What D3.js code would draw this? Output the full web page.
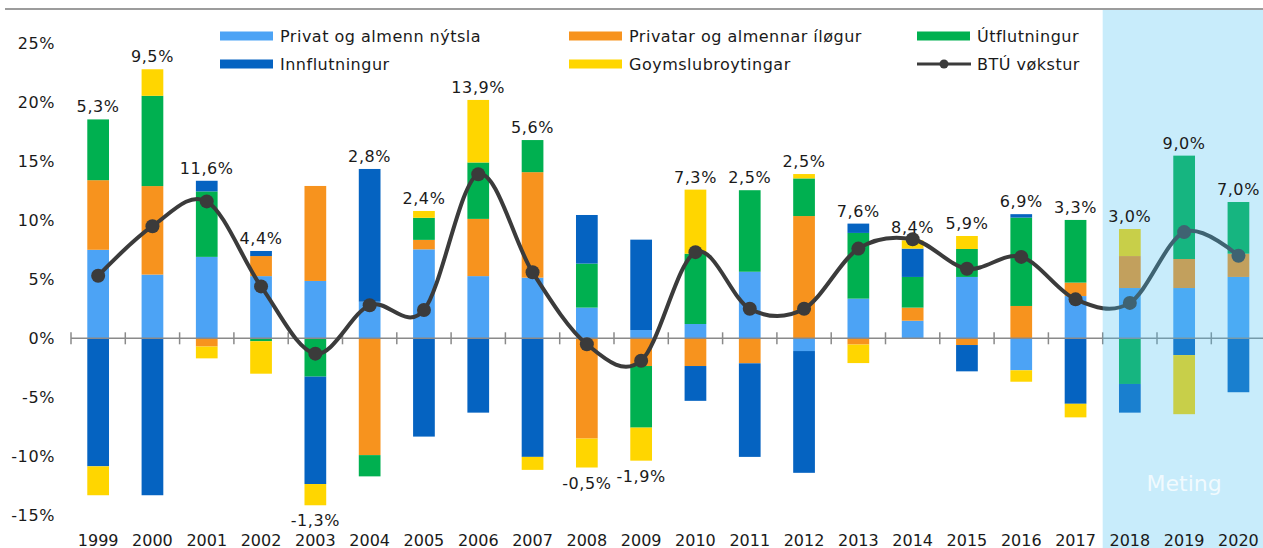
<!DOCTYPE html>
<html>
<head>
<meta charset="utf-8">
<script src="https://cdn.jsdelivr.net/npm/d3@7"></script>
<style>
  body { margin: 0; background: #fff; }
  svg text { font-family: "DejaVu Sans", Verdana, sans-serif; fill: #1a1a1a; }
</style>
</head>
<body>
<div class="main"></div>
<script>
// values, % of BTÚ
let years = ["1999","2000","2001","2002","2003","2004","2005","2006","2007","2008","2009","2010","2011","2012","2013","2014","2015","2016","2017","2018","2019","2020"];
let forecastYears = ["2018","2019","2020"];

let privat = [7.5, 5.4, 6.9, 5.27, 4.86, 3.1, 7.54, 5.27, 5.14, 2.6, 0.7, 1.21, 5.64, -1.08, 3.36, 1.49, 5.2, -2.71, 3.58, 4.26, 4.26, 5.2];
let ilogur = [5.9, 7.5, -0.7, 1.7, 8.05, -9.9, 0.8, 4.85, 8.94, -8.5, -2.35, -2.35, -2.12, 10.36, -0.53, 1.11, -0.57, 2.74, 1.14, 2.71, 2.46, 1.97];
let utflutningur = [5.15, 7.65, 5.55, -0.25, -3.25, -1.8, 1.87, 4.78, 2.72, 3.73, -5.22, 5.96, 6.91, 3.19, 5.57, 2.6, 2.37, 7.49, 5.31, -3.87, 8.76, 4.38];
let innflutningur = [-10.85, -13.3, 0.9, 0.43, -9.1, 11.25, -8.33, -6.3, -10.05, 4.12, 7.66, -2.95, -7.93, -10.32, 0.79, 2.4, -2.23, 0.29, -5.55, -2.43, -1.42, -4.57];
let goymsla = [-2.45, 2.25, -1.0, -2.75, -1.8, 0, 0.58, 5.3, -1.1, -2.45, -2.8, 5.43, 0, 0.37, -1.57, 0.7, 1.1, -0.97, -1.15, 2.29, -5.01, 0];
let vokstur = [5.3, 9.5, 11.6, 4.4, -1.3, 2.8, 2.4, 13.9, 5.6, -0.5, -1.9, 7.3, 2.5, 2.5, 7.6, 8.4, 5.9, 6.9, 3.3, 3.0, 9.0, 7.0];

let yTicks = [-15, -10, -5, 0, 5, 10, 15, 20, 25];

let seriesNames = ["Privat og almenn nýtsla", "Privatar og almennar íløgur", "Útflutningur", "Innflutningur", "Goymslubroytingar"];
let lineName = "BTÚ vøkstur";
let forecastLabel = "Meting";

let keys = ["privat", "ilogur", "utflutningur", "innflutningur", "goymsla"];
let colors = ["#4ca3f5", "#f7931e", "#00b050", "#0563c1", "#ffd600"];

let table = years.map((y, i) => ({
    year: y,
    privat: privat[i],
    ilogur: ilogur[i],
    utflutningur: utflutningur[i],
    innflutningur: innflutningur[i],
    goymsla: goymsla[i],
    vokstur: vokstur[i]
}));

let width = 1263;
let height = 548;

let svg = d3.select(".main")
    .append("svg")
    .attr("width", width)
    .attr("height", height);

let x = d3.scaleBand()
    .domain(years)
    .range([71, 1265.6])
    .paddingInner(0.6)
    .paddingOuter(0.3);

let y = d3.scaleLinear()
    .domain([-15, 25])
    .range([515.3, 43.3]);

let step = x.step();
let gap = (step - x.bandwidth()) / 2;

// title rule (title text sits above the crop)
svg.append("line")
    .attr("x1", 5).attr("x2", width)
    .attr("y1", 9).attr("y2", 9)
    .attr("stroke", "#9c9c9c")
    .attr("stroke-width", 2);

// stacked bars
let stacked = d3.stack()
    .keys(keys)
    .offset(d3.stackOffsetDiverging)(table);

svg.append("g")
    .selectAll("g")
    .data(stacked)
    .enter().append("g")
    .attr("fill", (d, i) => colors[i])
    .selectAll("rect")
    .data(d => d)
    .enter().append("rect")
    .attr("x", d => x(d.data.year))
    .attr("width", x.bandwidth())
    .attr("y", d => y(Math.max(d[0], d[1])))
    .attr("height", d => Math.abs(y(d[0]) - y(d[1])));

// x axis line with ticks between categories
let axisG = svg.append("g");
axisG.append("line")
    .attr("x1", x(years[0]) - gap)
    .attr("x2", width)
    .attr("y1", y(0)).attr("y2", y(0))
    .attr("stroke", "#8a8a8a")
    .attr("stroke-width", 1.5);

axisG.selectAll(".tick-mark")
    .data(years)
    .enter().append("line")
    .attr("class", "tick-mark")
    .attr("x1", d => x(d) - gap)
    .attr("x2", d => x(d) - gap)
    .attr("y1", y(0) - 6)
    .attr("y2", y(0) + 6)
    .attr("stroke", "#8a8a8a")
    .attr("stroke-width", 1.5);

// BTÚ line
let cx = d => x(d.year) + x.bandwidth() / 2;

let line = d3.line()
    .x(cx)
    .y(d => y(d.vokstur))
    .curve(d3.curveCatmullRom.alpha(0));

svg.append("path")
    .datum(table)
    .attr("d", line)
    .attr("fill", "none")
    .attr("stroke", "#3b3b3b")
    .attr("stroke-width", 4);

svg.append("g")
    .selectAll("circle")
    .data(table)
    .enter().append("circle")
    .attr("cx", cx)
    .attr("cy", d => y(d.vokstur))
    .attr("r", 7)
    .attr("fill", "#3b3b3b");

// forecast shading drawn over the marks, so it tints them
let fx0 = x(forecastYears[0]) - gap;
svg.append("rect")
    .attr("x", fx0)
    .attr("y", 10)
    .attr("width", width - fx0)
    .attr("height", height - 10)
    .attr("fill", "rgb(72,192,241)")
    .attr("opacity", 0.3);

svg.append("text")
    .attr("x", x(forecastYears[1]) + x.bandwidth() / 2)
    .attr("y", 491)
    .attr("text-anchor", "middle")
    .style("font-size", "22px")
    .style("fill", "#ffffff")
    .style("fill-opacity", 0.75)
    .text(forecastLabel);

// y labels
svg.append("g")
    .selectAll("text")
    .data(yTicks)
    .enter().append("text")
    .attr("x", 55)
    .attr("y", d => y(d))
    .attr("dy", "0.36em")
    .attr("text-anchor", "end")
    .style("font-size", "16px")
    .style("letter-spacing", "0.6px")
    .text(d => d + "%");

// x labels
svg.append("g")
    .selectAll("text")
    .data(years)
    .enter().append("text")
    .attr("x", d => x(d) + x.bandwidth() / 2)
    .attr("y", 545.5)
    .attr("text-anchor", "middle")
    .style("font-size", "16px")
    .text(d => d);

// growth labels above/below the stacks
let fmt = v => v.toFixed(1).replace(".", ",") + "%";
svg.append("g")
    .selectAll("text")
    .data(table)
    .enter().append("text")
    .attr("x", cx)
    .attr("y", d => {
        let vals = keys.map(k => d[k]);
        if (d.vokstur >= 0) {
            let top = d3.sum(vals.filter(v => v > 0));
            return y(top) - 7;
        } else {
            let bottom = d3.sum(vals.filter(v => v < 0));
            return y(bottom) + 21;
        }
    })
    .attr("text-anchor", "middle")
    .style("font-size", "16px")
    .style("letter-spacing", "0.6px")
    .text(d => fmt(d.vokstur));

// legend, row 1 = first three series, row 2 = import, stock, line
let legendCols = [220, 569, 917];
let legendRows = [36, 64];
let legendLayout = seriesNames.map((name, i) => ({ name: name, color: colors[i], type: "bar" }));
legendLayout.push({ name: lineName, color: "#3b3b3b", type: "line" });

let legend = svg.append("g")
    .selectAll("g")
    .data(legendLayout)
    .enter().append("g")
    .attr("transform", (d, i) => `translate(${legendCols[i % 3]},${legendRows[Math.floor(i / 3)]})`);

legend.filter(d => d.type === "bar")
    .append("rect")
    .attr("x", 0)
    .attr("y", -4.5)
    .attr("width", 53)
    .attr("height", 9)
    .attr("fill", d => d.color);

let lineLegend = legend.filter(d => d.type === "line");
lineLegend.append("line")
    .attr("x1", 0).attr("x2", 54)
    .attr("y1", 0).attr("y2", 0)
    .attr("stroke", d => d.color)
    .attr("stroke-width", 3);
lineLegend.append("circle")
    .attr("cx", 27)
    .attr("cy", 0)
    .attr("r", 4.5)
    .attr("fill", d => d.color);

legend.append("text")
    .attr("x", 60)
    .attr("y", 0)
    .attr("dy", "0.36em")
    .style("font-size", "16px")
    .style("letter-spacing", "0.5px")
    .text(d => d.name);
</script>
</body>
</html>
